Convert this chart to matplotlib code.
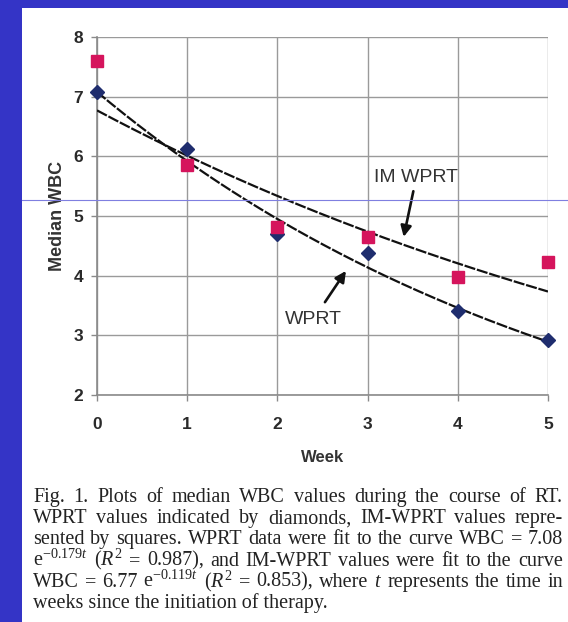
import numpy as np
import matplotlib
matplotlib.use("Agg")
import matplotlib.pyplot as plt
from matplotlib.patches import Rectangle
from matplotlib.lines import Line2D

plt.rcParams['font.family'] = ['Liberation Sans', 'DejaVu Sans']
plt.rcParams['mathtext.fontset'] = 'custom'
plt.rcParams['mathtext.rm'] = 'Liberation Serif'
plt.rcParams['mathtext.it'] = 'Liberation Serif:italic'
plt.rcParams['mathtext.bf'] = 'Liberation Serif:bold'

# ---- data ----
weeks = [0, 1, 2, 3, 4, 5]
wprt = [7.08, 6.12, 4.70, 4.38, 3.41, 2.92]
im_wprt = [7.60, 5.86, 4.82, 4.65, 3.98, 4.23]
# fitted exponential curves from the caption: WBC = a * exp(-b t)
wprt_fit = (7.08, 0.179)
im_fit = (6.77, 0.119)
x_ticks = [0, 1, 2, 3, 4, 5]
y_ticks = [2, 3, 4, 5, 6, 7, 8]

caption_lines = [
    "Fig. 1. Plots of median WBC values during the course of RT.",
    "WPRT values indicated by diamonds, IM-WPRT values repre-",
    "sented by squares. WPRT data were fit to the curve WBC = 7.08",
    "e$^{-0.179t}$ ($R^2$ = 0.987), and IM-WPRT values were fit to the curve",
    "WBC = 6.77 e$^{-0.119t}$ ($R^2$ = 0.853), where $t$ represents the time in",
    "weeks since the initiation of therapy.",
]

W, H = 568, 622
fig = plt.figure(figsize=(W / 100, H / 100), dpi=100)
fig.patch.set_facecolor('#3434c6')
# white page panel
fig.patches.append(Rectangle((22 / W, 0), 1 - 22 / W, 1 - 8 / H, transform=fig.transFigure,
                             facecolor='white', edgecolor='none', zorder=-5))

ax = fig.add_axes([97 / W, 1 - 395 / H, (548 - 97) / W, (395 - 37) / H])
ax.set_zorder(2)
ax.set_facecolor('white')
ax.set_xlim(0, 5)
ax.set_ylim(2, 8)
ax.set_xticks(x_ticks)
ax.set_yticks(y_ticks)
ax.grid(True, color='#9a9a9a', linewidth=1.0)
ax.set_axisbelow(True)
for s in ['top', 'right']:
    ax.spines[s].set_visible(False)
for s in ['left', 'bottom']:
    ax.spines[s].set_color('#8a8a8a')
    ax.spines[s].set_linewidth(1.2)
ax.tick_params(axis='both', colors='#8a8a8a', length=4, width=1.0, labelcolor='#2a2a2a',
               labelsize=12.5)
ax.tick_params(axis='x', pad=12)
ax.tick_params(axis='y', pad=6)
for lab in ax.get_xticklabels() + ax.get_yticklabels():
    lab.set_fontweight('bold')

t = np.linspace(0, 5, 200)
ax.plot(t, wprt_fit[0] * np.exp(-wprt_fit[1] * t), color='#111111', lw=1.6,
        linestyle=(0, (5, 0.8)), zorder=3)
ax.plot(t, im_fit[0] * np.exp(-im_fit[1] * t), color='#111111', lw=1.6,
        linestyle=(0, (5, 0.8)), zorder=3)

ax.plot(weeks, wprt, linestyle='none', marker='D', markersize=7.5, color='#1f2d6e',
        clip_on=False, zorder=4)
ax.plot(weeks, im_wprt, linestyle='none', marker='s', markersize=9, color='#d5145c',
        clip_on=False, zorder=4)

ax.annotate('IM WPRT', xy=(3.40, 4.65), xytext=(3.54, 5.65), ha='center', va='center',
            fontsize=14, color='#333333',
            arrowprops=dict(arrowstyle='-|>', color='#111111', lw=1.9, mutation_scale=16,
                            shrinkA=2, shrinkB=0))
ax.annotate('WPRT', xy=(2.76, 4.08), xytext=(2.40, 3.27), ha='center', va='center',
            fontsize=14, color='#333333',
            arrowprops=dict(arrowstyle='-|>', color='#111111', lw=1.9, mutation_scale=16,
                            shrinkA=5, shrinkB=0))

ax.set_xlabel('Week', fontsize=12, fontweight='bold', color='#333333', labelpad=13)
ax.set_ylabel('Median WBC', fontsize=13, fontweight='bold', color='#333333', labelpad=5)

# thin scan line
fig.add_artist(Line2D([22 / W, 1], [1 - 200 / H, 1 - 200 / H], transform=fig.transFigure,
                      color='#7f7fe0', lw=0.8, zorder=10))

# ---- caption (justified) ----
renderer = fig.canvas.get_renderer()
x0, x1 = 33, 563
y_first, step = 502, 21.2
fs = 14.5
for i, line in enumerate(caption_lines):
    yb = 1 - (y_first + i * step) / H
    words = line.split(' ')
    if i == len(caption_lines) - 1:
        fig.text(x0 / W, yb, line, fontsize=fs, family='Liberation Serif', color='#222222',
                 ha='left', va='baseline')
        continue
    arts = []
    widths = []
    for w in words:
        a = fig.text(0, yb, w, fontsize=fs, family='Liberation Serif', color='#222222',
                     ha='left', va='baseline')
        bb = a.get_window_extent(renderer)
        arts.append(a)
        widths.append(bb.width)
    gap = (x1 - x0 - sum(widths)) / (len(words) - 1)
    xpos = x0
    for a, wd in zip(arts, widths):
        a.set_x(xpos / W)
        xpos += wd + gap

fig.savefig('out.png', dpi=100, facecolor=fig.get_facecolor())
